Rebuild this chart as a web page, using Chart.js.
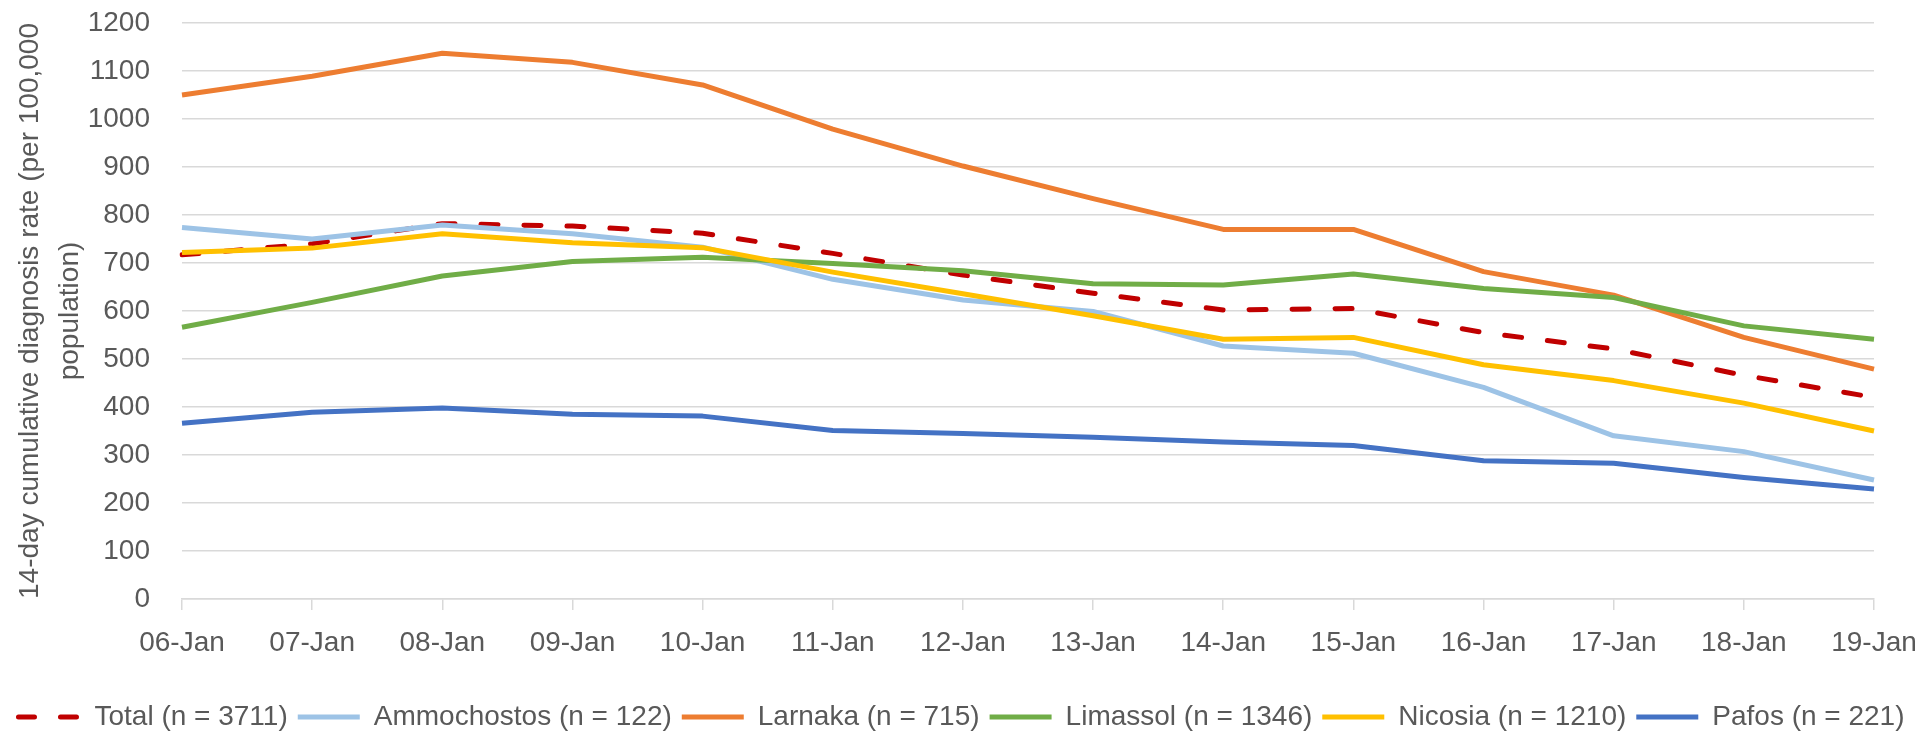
<!DOCTYPE html>
<html>
<script src="https://cdnjs.cloudflare.com/ajax/libs/Chart.js/4.4.1/chart.umd.min.js"></script>
<body style="margin:0;background:#fff">

<canvas id="myChart" width="1923" height="731"></canvas>

<script>
const dates = ["06-Jan", "07-Jan", "08-Jan", "09-Jan", "10-Jan", "11-Jan", "12-Jan",
               "13-Jan", "14-Jan", "15-Jan", "16-Jan", "17-Jan", "18-Jan", "19-Jan"];
const total       = [717, 740, 782, 777, 762, 720, 675, 637, 602, 605, 555, 521, 466, 420];
const ammochostos = [774, 750, 779, 761, 733, 666, 623, 599, 527, 512, 441, 340, 307, 248];
const larnaka     = [1050, 1089, 1137, 1118, 1071, 979, 902, 834, 770, 770, 682, 633, 545, 479];
const limassol    = [566, 618, 673, 703, 712, 699, 684, 657, 654, 677, 647, 628, 569, 541];
const nicosia     = [722, 731, 761, 742, 732, 681, 636, 590, 541, 545, 488, 455, 408, 350];
const pafos       = [366, 389, 398, 385, 381, 351, 345, 337, 327, 320, 288, 283, 253, 229];

const names  = ["Total (n = 3711)", "Ammochostos (n = 122)", "Larnaka (n = 715)",
                "Limassol (n = 1346)", "Nicosia (n = 1210)", "Pafos (n = 221)"];
const series = [total, ammochostos, larnaka, limassol, nicosia, pafos];
const colors = ["#C00000", "#9DC3E6", "#ED7D31", "#70AD47", "#FFC000", "#4472C4"];

const textColor = "#595959";
const gridColor = "#d9d9d9";
const font = { family: "Liberation Sans", size: 28 };

const datasets = series.map((data, i) => ({
  label: names[i],
  data: data,
  borderColor: colors[i],
  backgroundColor: colors[i],
  borderWidth: 5,
  borderDash: i === 0 ? [17, 26] : [],
  borderCapStyle: i === 0 ? "round" : "butt",
  borderJoinStyle: "round",
  pointRadius: 0,
  tension: 0,
  fill: false,
  order: series.length - i   // last series drawn on top, like excel
}));

const myChart = new Chart("myChart", {
  type: "line",
  data: { labels: dates, datasets: datasets },
  options: {
    responsive: false,
    animation: false,
    devicePixelRatio: 1,
    layout: { padding: { top: 0, right: 0, left: 0, bottom: -10 } },
    plugins: {
      tooltip: { enabled: false },
      legend: {
        position: "bottom",
        labels: {
          color: textColor,
          font: font,
          usePointStyle: true,
          pointStyleWidth: 62,
          padding: 10,
          generateLabels: chart => chart.data.datasets.map((ds, i) => ({
            text: ds.label,
            datasetIndex: i,
            strokeStyle: ds.borderColor,
            fillStyle: ds.borderColor,
            fontColor: textColor,
            lineWidth: ds.borderWidth,
            lineDash: i === 0 ? [16, 26] : [],
            lineCap: ds.borderCapStyle,
            pointStyle: "line",
            hidden: false
          }))
        }
      }
    },
    scales: {
      x: {
        offset: false,
        grid: { drawOnChartArea: false, drawTicks: true, tickLength: 11, color: gridColor, lineWidth: 1.5 },
        border: { display: true, color: gridColor, width: 1.5 },
        ticks: { color: textColor, font: font, padding: 16, maxRotation: 0, autoSkip: false },
        afterFit: s => { s.height = 94; s.paddingRight = 49; s.paddingLeft = 0; }
      },
      y: {
        min: 0,
        max: 1200,
        ticks: {
          stepSize: 100, color: textColor, font: font, padding: 32,
          callback: v => String(v)
        },
        grid: { color: gridColor, lineWidth: 1.5, drawTicks: false },
        border: { display: false },
        title: {
          display: true,
          text: ["14-day cumulative diagnosis rate (per 100,000", "population)"],
          color: textColor,
          font: { family: "Liberation Sans", size: 28, lineHeight: 1.4 },
          padding: { top: 11, bottom: 0 }
        },
        afterFit: s => { s.width = 182; s.paddingTop = 23; s.paddingBottom = 0; }
      }
    }
  }
});
</script>

</body>
</html>
